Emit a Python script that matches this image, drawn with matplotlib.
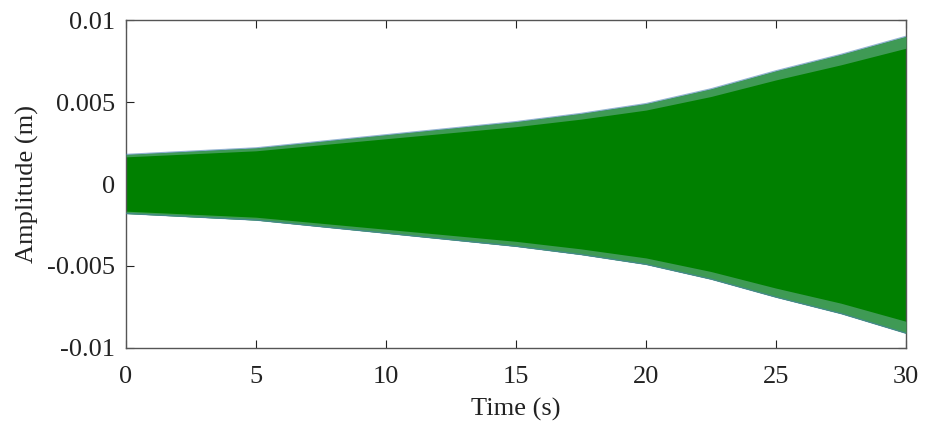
import matplotlib
matplotlib.use("Agg")
import matplotlib.pyplot as plt
import numpy as np

# Envelope of the response (time in s, amplitude in m)
time_s = [0, 2.5, 5, 7.5, 10, 12.5, 15, 17.5, 20, 22.5, 25, 27.5, 30]
env_upper = [0.0018, 0.0020, 0.0022, 0.0026, 0.0030, 0.0034, 0.0038, 0.0043, 0.0049, 0.0058, 0.0069, 0.0079, 0.0090]
env_lower = [-0.0018, -0.0020, -0.0022, -0.0026, -0.0030, -0.0034, -0.0038, -0.0043, -0.0049, -0.0058, -0.0069, -0.0079, -0.0091]

xticks = [0, 5, 10, 15, 20, 25, 30]
yticks = [-0.01, -0.005, 0, 0.005, 0.01]
yticklabels = ["-0.01", "-0.005", "0", "0.005", "0.01"]

plt.rcParams['font.family'] = ['Liberation Serif', 'DejaVu Serif']

fig = plt.figure(figsize=(9.29, 4.25), dpi=100)
ax = fig.add_axes([0.1356, 0.1812, 0.8396, 0.7717])

t = np.array(time_s)
up = np.array(env_upper)
lo = np.array(env_lower)

green = '#008000'
ax.fill_between(t, lo, up, color=green, lw=0, zorder=2)
# lighter, striated edge band
ax.fill_between(t, up * 0.92, up, color='#3f9a55', lw=0, zorder=3)
ax.fill_between(t, lo, lo * 0.92, color='#3f9a55', lw=0, zorder=3)
ax.plot(t, up, color='#4a7fb0', lw=1.0, alpha=0.6, zorder=4)
ax.plot(t, lo, color='#4a7fb0', lw=1.0, alpha=0.6, zorder=4)

ax.set_xlim(0, 30)
ax.set_ylim(-0.01, 0.01)
ax.set_xticks(xticks)
ax.set_xticklabels([str(v) for v in xticks])
ax.set_yticks(yticks)
ax.set_yticklabels(yticklabels)

ax.tick_params(direction='in', length=6, width=0.8, top=True, right=True,
               labelsize=19, colors='#222222', pad=8)
ax.tick_params(axis='x', pad=13)
for s in ax.spines.values():
    s.set_color('#555555')
    s.set_linewidth(1.0)

ax.set_xlabel('Time (s)', fontsize=19, color='#222222', labelpad=7)
ax.set_ylabel('Amplitude (m)', fontsize=19, color='#222222', labelpad=6)

fig.savefig('out.png', dpi=100)
